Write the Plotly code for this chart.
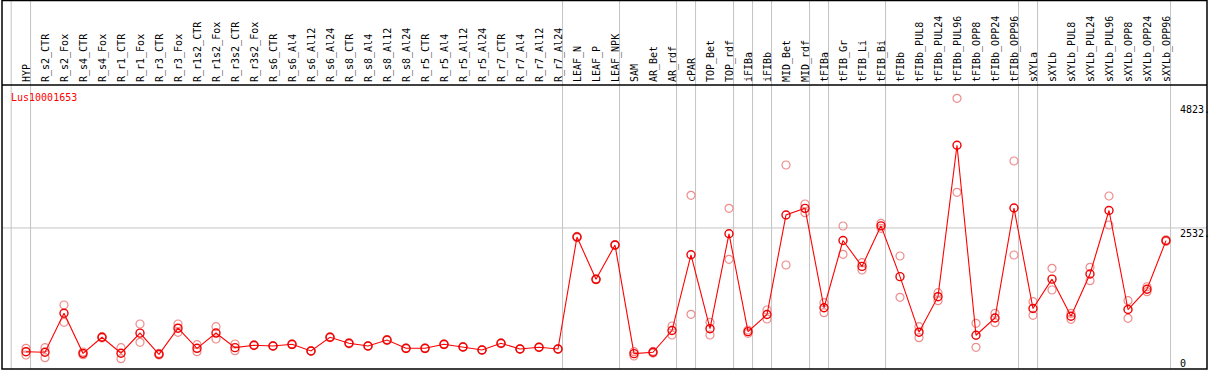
import plotly.graph_objects as go

categories = ["HYP", "R_s2_CTR", "R_s2_Fox", "R_s4_CTR", "R_s4_Fox", "R_r1_CTR", "R_r1_Fox",
              "R_r3_CTR", "R_r3_Fox", "R_r1s2_CTR", "R_r1s2_Fox", "R_r3s2_CTR", "R_r3s2_Fox",
              "R_s6_CTR", "R_s6_Al4", "R_s6_Al12", "R_s6_Al24", "R_s8_CTR", "R_s8_Al4", "R_s8_Al12",
              "R_s8_Al24", "R_r5_CTR", "R_r5_Al4", "R_r5_Al12", "R_r5_Al24", "R_r7_CTR", "R_r7_Al4",
              "R_r7_Al12", "R_r7_Al24", "LEAF_N", "LEAF_P", "LEAF_NPK", "SAM", "AR_Bet", "AR_rdf",
              "cPAR", "TOP_Bet", "TOP_rdf", "iFIBa", "iFIBb", "MID_Bet", "MID_rdf", "tFIBa",
              "tFIB_Gr", "tFIB_Li", "tFIB_Bi", "tFIBb", "tFIBb_PUL8", "tFIBb_PUL24", "tFIBb_PUL96",
              "tFIBb_OPP8", "tFIBb_OPP24", "tFIBb_OPP96", "sXYLa", "sXYLb", "sXYLb_PUL8",
              "sXYLb_PUL24", "sXYLb_PUL96", "sXYLb_OPP8", "sXYLb_OPP24", "sXYLb_OPP96"]

mean_values = [246, 235, 955, 215, 512, 218, 588, 198, 680, 308, 590, 320, 364,
               351, 382, 259, 512, 401, 351, 462, 308, 308, 382, 333, 277, 401, 296, 327, 296,
               2365, 1583, 2217, 210, 235, 637, 2036, 671, 2424, 616, 933, 2771, 2894, 1058,
               2300, 1822, 2571, 1632, 606, 1262, 4059, 549, 868, 2900, 1043, 1586, 900,
               1681, 2854, 1025, 1400, 2297]

rep1_values = [308, 320, 1108, 240, 523, 320, 757, 216, 757, 375, 708, 388, 370,
               355, 388, 262, 520, 410, 356, 470, 312, 314, 388, 338, 282, 408, 300, 332, 300,
               2375, 1590, 2225, 246, 250, 720, 3135, 789, 2895, 647, 1016, 3695, 2974, 1151,
               2568, 1890, 2618, 2014, 708, 1336, 4927, 770, 955, 3769, 1169, 1786, 955,
               1805, 3122, 1188, 1446, 2310]

rep2_values = [185, 135, 789, 190, 499, 116, 419, 185, 604, 246, 480, 264, 358,
               347, 376, 256, 504, 392, 346, 454, 304, 302, 376, 328, 272, 394, 292, 322, 292,
               2355, 1576, 2209, 166, 220, 554, 937, 554, 1953, 585, 850, 1847, 2814, 966,
               2045, 1755, 2525, 1251, 504, 1188, 3190, 327, 781, 2032, 918, 1386, 844,
               1557, 2586, 863, 1354, 2285]

group_ends = ["HYP", "R_r7_Al24", "LEAF_NPK", "AR_rdf", "cPAR", "TOP_rdf", "iFIBa", "iFIBb",
              "MID_rdf", "tFIBa", "tFIB_Bi", "tFIBb_OPP96", "sXYLa", "sXYLb_OPP96"]

y_tick_values = [4823, 2532, 0]
y_tick_labels = ["4823.", "2532.", "0"]
gene_name = "Lus10001653"

W, H = 1209, 370
ML, MR, MT, MB = 2, 2, 85, 1
PW = W - ML - MR
PH = H - MT - MB
FONT = "DejaVu Sans Mono"

idx = list(range(len(categories)))

fig = go.Figure()
rep_marker = dict(symbol="circle-open", size=8, color="rgb(238,140,140)", line=dict(width=1.2))
fig.add_trace(go.Scatter(x=idx, y=rep1_values, mode="markers", marker=rep_marker,
                         hoverinfo="skip", showlegend=False, cliponaxis=False))
fig.add_trace(go.Scatter(x=idx, y=rep2_values, mode="markers", marker=rep_marker,
                         hoverinfo="skip", showlegend=False, cliponaxis=False))
fig.add_trace(go.Scatter(x=idx, y=mean_values, mode="lines+markers",
                         line=dict(color="#ff0000", width=1.1),
                         marker=dict(symbol="circle-open", size=8, color="#ee0000",
                                     line=dict(width=1.4)), showlegend=False, cliponaxis=False))

shapes = []
sep_positions = [-0.78] + [categories.index(c) + 0.24 for c in group_ends]
top_paper = 1 + (MT - 0.5) / PH
for sx in sep_positions:
    shapes.append(dict(type="line", xref="x", yref="paper", x0=sx, x1=sx, y0=0, y1=top_paper,
                       line=dict(color="#c4c4c4", width=1), layer="below"))
shapes.append(dict(type="line", xref="paper", yref="y", x0=0, x1=1, y0=y_tick_values[1],
                   y1=y_tick_values[1], line=dict(color="#c4c4c4", width=1), layer="below"))
shapes.append(dict(type="rect", xref="paper", yref="paper", x0=0, x1=1, y0=0, y1=top_paper,
                   line=dict(color="black", width=1.5)))
shapes.append(dict(type="line", xref="paper", yref="paper", x0=0, x1=1, y0=1, y1=1,
                   line=dict(color="black", width=1.5)))

annotations = []
for v, t in zip(y_tick_values, y_tick_labels):
    annotations.append(dict(text=t, xref="paper", yref="y", x=(1178 - ML) / PW, y=v,
                            xanchor="left", yanchor="top", showarrow=False,
                            yshift=(9 if v == 0 else 2),
                            font=dict(family=FONT, size=10, color="black")))
annotations.append(dict(text=gene_name, xref="paper", yref="paper", x=(9 - ML) / PW,
                        y=1 - (90 - MT) / PH, xanchor="left", yanchor="top", showarrow=False,
                        font=dict(family=FONT, size=10, color="#ff0000")))

fig.update_layout(
    width=W, height=H,
    margin=dict(l=ML, r=MR, t=MT, b=MB, pad=0, autoexpand=False),
    paper_bgcolor="white", plot_bgcolor="white",
    shapes=shapes, annotations=annotations,
    xaxis=dict(range=[(ML - 26) / 19, (W - MR - 26) / 19], side="top", tickmode="array",
               tickvals=idx, ticktext=categories, tickangle=-90, automargin=False,
               ticklabelstandoff=2, ticklabelshift=1,
               tickfont=dict(family=FONT, size=10, color="black"),
               showgrid=False, zeroline=False, ticks="", showline=False),
    yaxis=dict(range=[-74, 5173], showticklabels=False, showgrid=False, zeroline=False,
               ticks="", showline=False, automargin=False),
)

fig.write_html("out.html", config={"displayModeBar": False},
               post_script="document.body.style.margin='0';document.body.style.overflow='hidden';")
